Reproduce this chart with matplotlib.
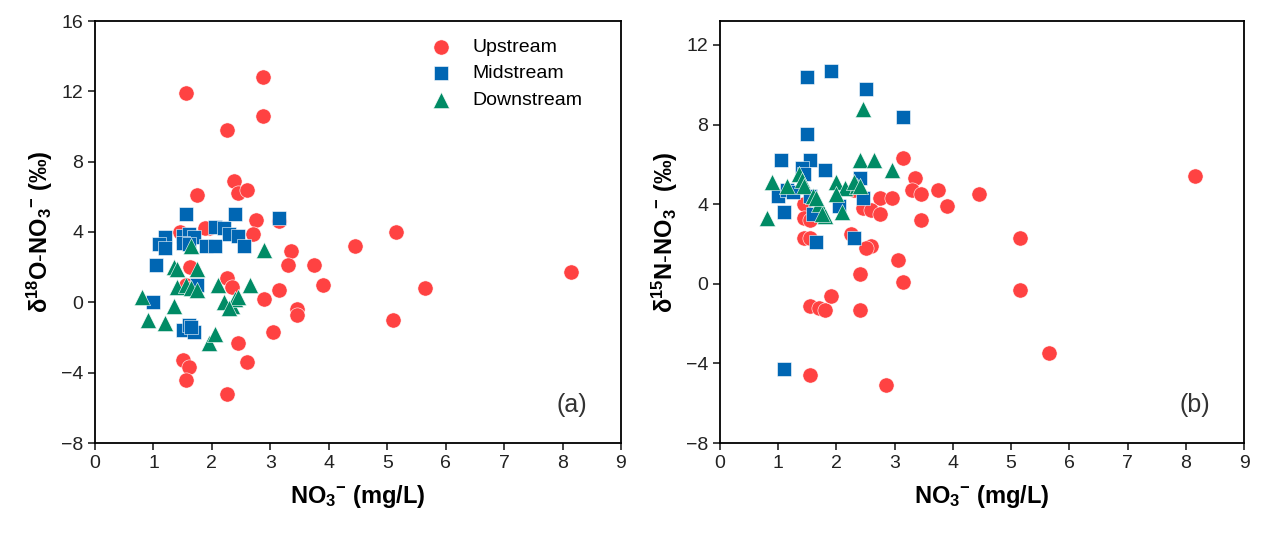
import matplotlib
matplotlib.use("Agg")
import matplotlib.pyplot as plt

plt.rcParams['font.family'] = ['Liberation Sans', 'DejaVu Sans']
plt.rcParams['mathtext.fontset'] = 'custom'
plt.rcParams['mathtext.rm'] = 'Liberation Sans'
plt.rcParams['mathtext.bf'] = 'Liberation Sans:bold'
plt.rcParams['mathtext.it'] = 'Liberation Sans:italic'

# (a) d18O vs NO3
up_a_x = [1.55,2.88,2.25,2.87,1.75,2.38,2.45,2.6,2.75,3.15,2.7,1.95,1.46,1.88,1.62,1.55,1.65,2.25,2.35,2.9,3.15,3.35,3.3,3.75,3.9,3.45,3.45,3.05,2.45,2.6,1.5,1.6,1.55,2.25,4.45,5.15,5.65,5.1,8.15]
up_a_y = [11.9,12.8,9.8,10.6,6.1,6.9,6.2,6.4,4.7,4.6,3.9,4.2,4.0,4.2,2.0,1.0,0.8,1.4,0.9,0.2,0.7,2.9,2.1,2.1,1.0,-0.4,-0.7,-1.7,-2.3,-3.4,-3.3,-3.7,-4.4,-5.2,3.2,4.0,0.8,-1.0,1.7]
mid_a_x = [1.55,2.4,3.15,1.2,1.1,1.2,1.5,1.6,1.7,1.5,1.6,2.05,2.2,2.3,2.45,1.9,2.05,2.55,1.05,1.75,1.0,1.5,1.6,1.7,1.65]
mid_a_y = [5.0,5.0,4.8,3.7,3.3,3.1,3.8,3.9,3.7,3.4,3.3,4.3,4.2,3.9,3.8,3.2,3.2,3.2,2.1,1.0,0.0,-1.6,-1.3,-1.7,-1.4]
down_a_x = [0.8,0.9,1.2,1.35,1.4,1.35,1.4,1.55,1.65,1.65,1.75,1.75,1.95,2.05,2.1,2.2,2.35,2.4,2.45,2.65,2.9,2.3]
down_a_y = [0.3,-1.0,-1.2,2.0,1.9,-0.2,0.9,1.0,0.8,3.2,1.9,0.7,-2.3,-1.8,1.0,0.0,-0.2,0.2,0.3,1.0,3.0,-0.3]

# (b) d15N vs NO3
up_b_x = [3.15,3.35,3.3,3.45,3.75,3.9,3.45,4.45,8.15,2.75,2.95,2.45,2.6,2.75,2.6,2.5,1.45,1.45,1.55,1.45,1.55,2.25,2.4,2.4,3.05,3.15,5.15,5.15,5.65,1.55,1.7,1.8,1.9,1.55,2.85,2.3]
up_b_y = [6.3,5.3,4.7,4.5,4.7,3.9,3.2,4.5,5.4,4.3,4.3,3.8,3.7,3.5,1.9,1.8,4.0,3.3,3.2,2.3,2.3,2.5,0.5,-1.3,1.2,0.1,2.3,-0.3,-3.5,-1.1,-1.2,-1.3,-0.6,-4.6,-5.1,4.7]
mid_b_x = [1.5,1.9,2.5,3.15,1.5,1.05,1.55,1.8,1.4,1.45,2.4,1.0,1.15,1.25,1.55,2.05,2.45,1.1,1.6,1.65,2.3,1.1]
mid_b_y = [10.4,10.7,9.8,8.4,7.5,6.2,6.2,5.7,5.8,5.5,5.3,4.4,4.7,4.6,4.4,3.9,4.3,3.6,3.5,2.1,2.3,-4.3]
down_b_x = [2.45,2.4,2.65,2.95,0.9,1.15,1.35,1.4,1.45,1.6,1.7,1.8,1.75,2.0,2.1,2.15,2.35,2.3,2.4,0.8,1.65,2.0]
down_b_y = [8.8,6.2,6.2,5.7,5.1,4.9,5.5,5.2,4.9,4.4,4.0,3.4,3.5,5.1,3.6,4.8,4.9,5.1,4.9,3.3,4.3,4.5]

RED, BLUE, GREEN = '#FF4242', '#0066B3', '#008B65'
fig = plt.figure(figsize=(12.63, 5.44), dpi=100)
ax1 = fig.add_axes([95/1263, 1-443/544, 526/1263, 422/544])
ax2 = fig.add_axes([720/1263, 1-443/544, 524/1263, 422/544])

def draw(ax, ux, uy, mx, my, dx, dy):
    ax.scatter(ux, uy, s=120, marker='o', color=RED, edgecolors='white', linewidths=0.4, label='Upstream', zorder=3)
    ax.scatter(mx, my, s=105, marker='s', color=BLUE, edgecolors='white', linewidths=0.4, label='Midstream', zorder=3)
    ax.scatter(dx, dy, s=135, marker='^', color=GREEN, edgecolors='white', linewidths=0.4, label='Downstream', zorder=3)
    ax.set_xlim(0, 9)
    ax.set_xticks(range(0, 10))
    ax.tick_params(direction='out', labelsize=14, length=5, width=1.2, colors='#222222')
    for s in ax.spines.values():
        s.set_linewidth(1.3)
    ax.set_xlabel(r'$\mathbf{NO_3}$$\mathbf{^{-}}$ $\mathbf{(mg/L)}$', fontsize=17, labelpad=8)

draw(ax1, up_a_x, up_a_y, mid_a_x, mid_a_y, down_a_x, down_a_y)
ax1.set_ylim(-8, 16)
ax1.set_yticks(range(-8, 17, 4))
ax1.set_ylabel(r'$\mathbf{\delta^{18}O}$-$\mathbf{NO_3}$$\mathbf{^{-}}$ $\mathbf{(‰)}$', fontsize=17)
ax1.text(0.935, 0.09, '(a)', transform=ax1.transAxes, fontsize=18, ha='right', va='center', color='#333333')
ax1.legend(loc='upper right', bbox_to_anchor=(0.96, 1.0), frameon=False, fontsize=14, handletextpad=0.6, labelspacing=0.45)

draw(ax2, up_b_x, up_b_y, mid_b_x, mid_b_y, down_b_x, down_b_y)
ax2.set_ylim(-8, 13.2)
ax2.set_yticks(range(-8, 13, 4))
ax2.set_ylabel(r'$\mathbf{\delta^{15}N}$-$\mathbf{NO_3}$$\mathbf{^{-}}$ $\mathbf{(‰)}$', fontsize=17)
ax2.text(0.935, 0.09, '(b)', transform=ax2.transAxes, fontsize=18, ha='right', va='center', color='#333333')

fig.savefig('out.png', dpi=100)
